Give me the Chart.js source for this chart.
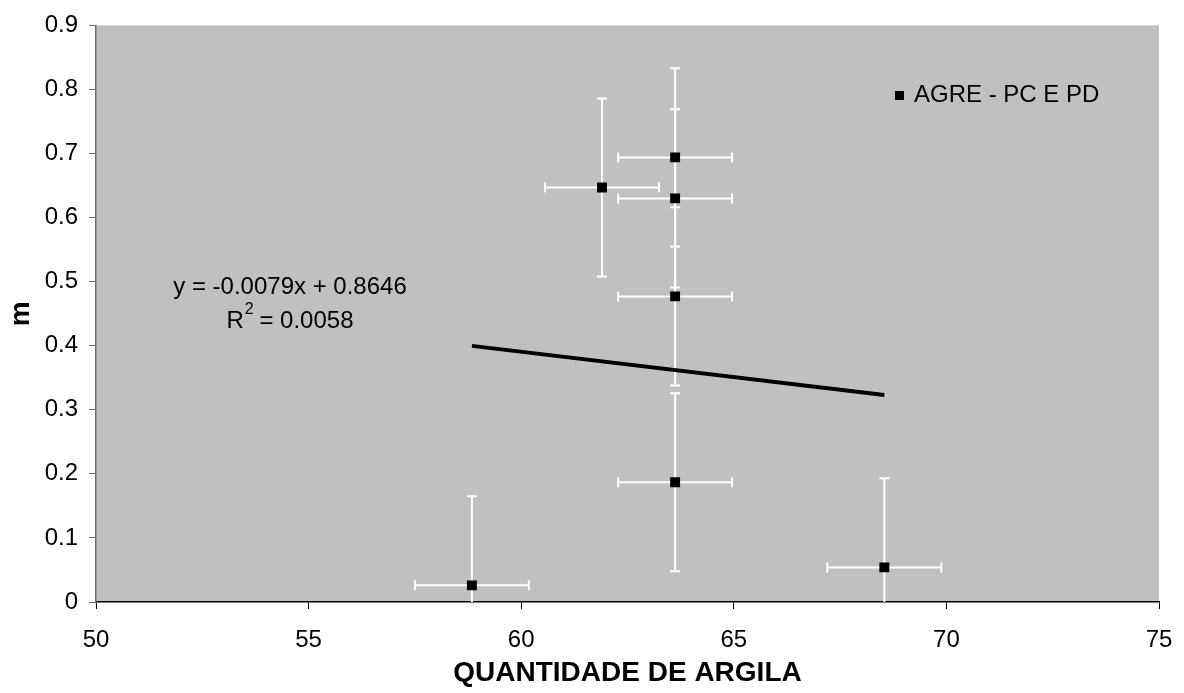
<!DOCTYPE html>
<html>
<head>
<meta charset="utf-8">
<script src="https://cdn.jsdelivr.net/npm/chart.js@4/dist/chart.umd.min.js"></script>
<style>
  html, body { margin: 0; padding: 0; background: #ffffff; }
  #wrap { width: 1184px; height: 693px; }
</style>
</head>
<body>
<div id="wrap"><canvas id="chart" width="1184" height="693"></canvas></div>
<script>
// Clay content (x) and m (y) per sample, with their error margins
const clay    = [58.84, 68.54, 61.90, 63.62, 63.62, 63.62, 63.62];
const mValues = [0.026, 0.054, 0.647, 0.694, 0.630, 0.477, 0.187];
const clayErr = [1.34, 1.34, 1.34, 1.34, 1.34, 1.34, 1.34];
const mErr    = [0.139, 0.139, 0.139, 0.139, 0.139, 0.139, 0.139];

// Linear trend line y = slope * x + intercept
const trendSlope = -0.0079;
const trendIntercept = 0.8646;
const rSquared = 0.0058;

const xTicks = [50, 55, 60, 65, 70, 75];
const yTicks = [0, 0.1, 0.2, 0.3, 0.4, 0.5, 0.6, 0.7, 0.8, 0.9];

const seriesLabel = 'AGRE - PC E PD';
const xTitle = 'QUANTIDADE DE ARGILA';
const yTitle = 'm';

const FONT = '"Liberation Sans", Arial, Helvetica, sans-serif';

const points = clay.map((x, i) => ({ x: x, y: mValues[i] }));
const xMin = Math.min(...clay);
const xMax = Math.max(...clay);
const trendPoints = [xMin, xMax].map(x => ({ x: x, y: trendSlope * x + trendIntercept }));

// Grey plot area
const plotBackground = {
  id: 'plotBackground',
  beforeDraw(chart) {
    const { ctx, chartArea: a } = chart;
    ctx.save();
    ctx.fillStyle = '#c0c0c0';
    ctx.fillRect(a.left, a.top, a.right - a.left, a.bottom - a.top);
    ctx.restore();
  }
};

// White error bars in both directions, drawn beneath the markers and the trend line
const errorBars = {
  id: 'errorBars',
  beforeDatasetsDraw(chart) {
    const { ctx, chartArea: a, scales: { x: sx, y: sy } } = chart;
    const cap = 5;
    ctx.save();
    ctx.beginPath();
    ctx.rect(a.left, a.top, a.right - a.left, a.bottom - a.top);
    ctx.clip();
    ctx.strokeStyle = '#ffffff';
    ctx.lineWidth = 2;
    clay.forEach((xv, i) => {
      const yv = mValues[i];
      const px = sx.getPixelForValue(xv);
      const py = sy.getPixelForValue(yv);
      const yTop = sy.getPixelForValue(yv + mErr[i]);
      const yBot = sy.getPixelForValue(yv - mErr[i]);
      const xL = sx.getPixelForValue(xv - clayErr[i]);
      const xR = sx.getPixelForValue(xv + clayErr[i]);
      ctx.beginPath();
      ctx.moveTo(px, yTop); ctx.lineTo(px, yBot);
      ctx.moveTo(px - cap, yTop); ctx.lineTo(px + cap, yTop);
      ctx.moveTo(px - cap, yBot); ctx.lineTo(px + cap, yBot);
      ctx.moveTo(xL, py); ctx.lineTo(xR, py);
      ctx.moveTo(xL, py - cap); ctx.lineTo(xL, py + cap);
      ctx.moveTo(xR, py - cap); ctx.lineTo(xR, py + cap);
      ctx.stroke();
    });
    ctx.restore();
  }
};

// Regression equation, R² and the legend entry
const annotations = {
  id: 'annotations',
  afterDraw(chart) {
    const { ctx } = chart;
    ctx.save();
    ctx.fillStyle = '#000000';
    ctx.textBaseline = 'middle';
    ctx.font = '24px ' + FONT;

    const sign = trendIntercept >= 0 ? '+' : '-';
    const eq = 'y = ' + trendSlope.toFixed(4) + 'x ' + sign + ' ' + Math.abs(trendIntercept).toFixed(4);
    const cx = 290;
    ctx.textAlign = 'center';
    ctx.fillText(eq, cx, 287);

    // R² line with a raised "2"
    const rPart = 'R';
    const rest = ' = ' + rSquared.toFixed(4);
    ctx.font = '24px ' + FONT;
    const wR = ctx.measureText(rPart).width;
    const wRest = ctx.measureText(rest).width;
    ctx.font = '16px ' + FONT;
    const wSup = ctx.measureText('2').width;
    const total = wR + wSup + wRest;
    let x0 = cx - total / 2;
    ctx.textAlign = 'left';
    ctx.font = '24px ' + FONT;
    ctx.fillText(rPart, x0, 321);
    ctx.font = '16px ' + FONT;
    ctx.fillText('2', x0 + wR + 1, 310);
    ctx.font = '24px ' + FONT;
    ctx.fillText(rest, x0 + wR + wSup, 321);

    // Legend
    ctx.fillRect(895, 91, 9, 9);
    ctx.fillText(seriesLabel, 914, 95);
    ctx.restore();
  }
};

new Chart(document.getElementById('chart'), {
  type: 'scatter',
  data: {
    datasets: [
      {
        label: 'Tendência',
        data: trendPoints,
        showLine: true,
        borderColor: '#000000',
        borderWidth: 4,
        pointRadius: 0,
        pointHoverRadius: 0,
        fill: false,
        order: 2
      },
      {
        label: seriesLabel,
        data: points,
        pointStyle: 'rect',
        pointRadius: 7,
        pointHoverRadius: 7,
        backgroundColor: '#000000',
        borderColor: '#000000',
        borderWidth: 0,
        showLine: false,
        order: 1
      }
    ]
  },
  options: {
    responsive: false,
    animation: false,
    devicePixelRatio: 1,
    layout: { padding: { left: 0, right: 25, top: 24, bottom: 0 } },
    plugins: {
      legend: { display: false },
      tooltip: { enabled: false }
    },
    scales: {
      x: {
        type: 'linear',
        min: 50,
        max: 75,
        afterBuildTicks: s => { s.ticks = xTicks.map(v => ({ value: v })); },
        afterFit: s => { s.height = 91; s.paddingRight = 0; s.paddingLeft = 0; },
        ticks: {
          color: '#000000',
          font: { family: FONT, size: 24 },
          padding: 17,
          maxRotation: 0,
          callback: v => String(v)
        },
        grid: { drawOnChartArea: false, drawTicks: true, tickLength: 7, tickColor: '#000000', tickWidth: 1 },
        border: { display: true, color: '#000000', width: 1.5 },
        title: {
          display: true,
          text: xTitle,
          color: '#000000',
          font: { family: FONT, size: 28, weight: 'bold' },
          padding: { top: 0, bottom: 3 }
        }
      },
      y: {
        type: 'linear',
        min: 0,
        max: 0.9,
        afterBuildTicks: s => { s.ticks = yTicks.map(v => ({ value: v })); },
        afterFit: s => { s.width = 96; },
        ticks: {
          color: '#000000',
          font: { family: FONT, size: 24 },
          padding: 11,
          callback: v => String(v)
        },
        grid: { drawOnChartArea: false, drawTicks: true, tickLength: 7, tickColor: '#6e6e6e', tickWidth: 1 },
        border: { display: true, color: '#6e6e6e', width: 1.5 },
        title: {
          display: true,
          text: yTitle,
          color: '#000000',
          font: { family: FONT, size: 28, weight: 'bold' },
          padding: { top: 4, bottom: 0 }
        }
      }
    }
  },
  plugins: [plotBackground, errorBars, annotations]
});
</script>
</body>
</html>
